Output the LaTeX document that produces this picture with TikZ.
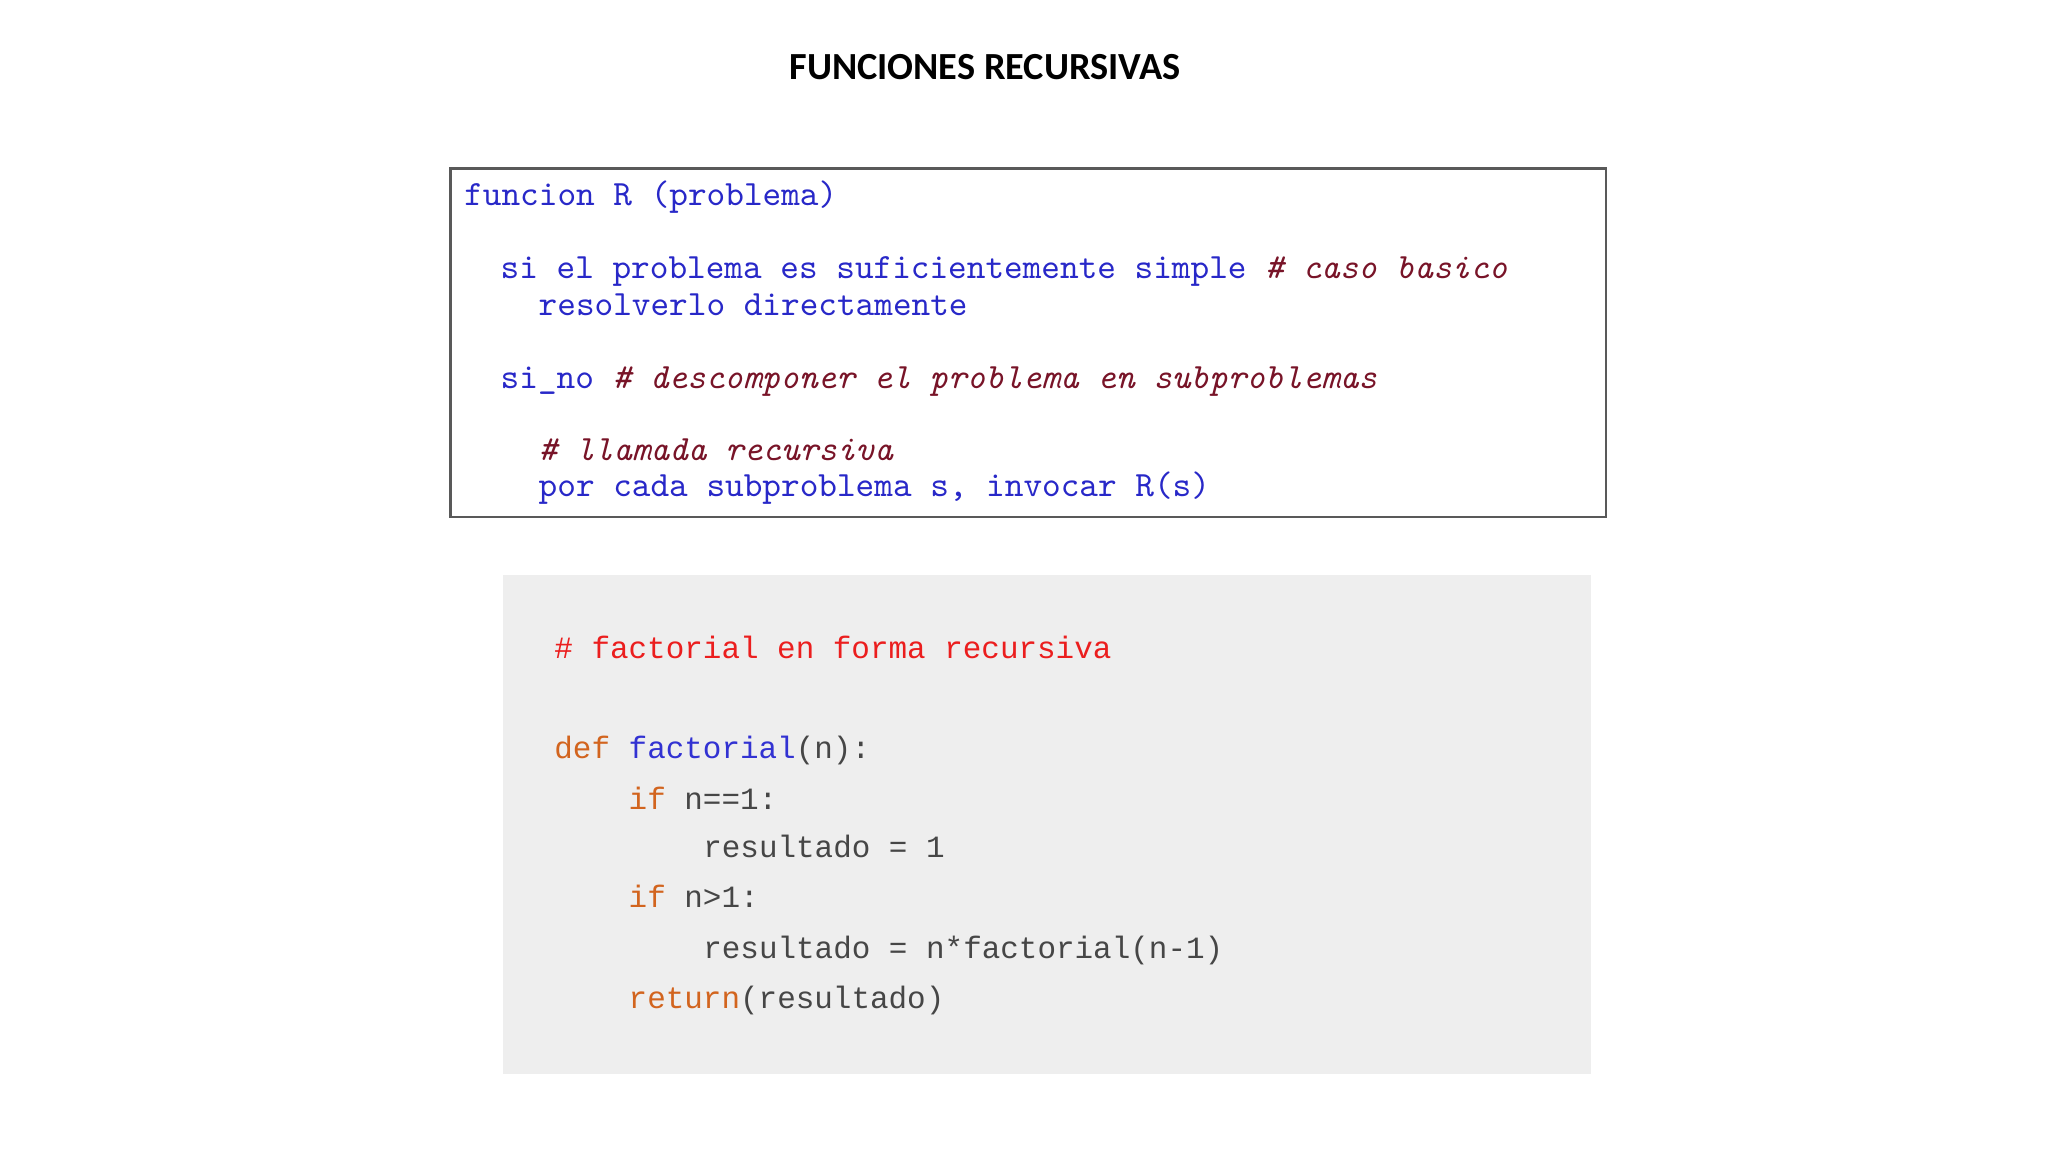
\documentclass[tikz,border=0pt]{standalone}
\usepackage{fontspec}
\usetikzlibrary{fit}
\newfontfamily\titlefont{Carlito}
\newfontfamily\codefont{Liberation Mono}
\definecolor{kwblue}{RGB}{40,40,200}
\definecolor{cmred}{RGB}{120,20,40}
\definecolor{pyred}{RGB}{235,30,30}
\definecolor{pyor}{RGB}{210,100,30}
\definecolor{pyblue}{RGB}{50,50,210}
\definecolor{pygray}{RGB}{70,70,70}
\definecolor{codebg}{RGB}{238,238,238}
\tikzset{
  l1/.style={anchor=base west,inner sep=0pt,font=\ttfamily\fontsize{10.1}{12}\selectfont,text=kwblue},
  l2/.style={anchor=base west,inner sep=0pt,font=\codefont\fontsize{8.8}{11}\selectfont,text=pygray},
}
\begin{document}
\begin{tikzpicture}[x=0.01cm,y=-0.01cm]
\useasboundingbox (0,0) rectangle (2048,1152);
\node[anchor=base,inner sep=0pt,font=\titlefont\bfseries\fontsize{10.9}{12}\selectfont] (title) at (985,80) {FUNCIONES RECURSIVAS};
\coordinate (p1) at (450.6,168.5);
\coordinate (p2) at (1606,517);
\node[draw=black!65,line width=0.8pt,inner sep=0pt,fit=(p1)(p2)] (box1) {};
\coordinate (q1) at (503,575);
\coordinate (q2) at (1591,1073.5);
\node[fill=codebg,inner sep=0pt,fit=(q1)(q2)] (box2) {};
\node[l1] (a1) at (463.6,206) {funcion R (problema)};
\node[l1] (a2) at (500,279) {si el problema es suficientemente simple \textcolor{cmred}{\itshape\# caso basico}};
\node[l1] (a3) at (538,315.6) {resolverlo directamente};
\node[l1] (a4) at (500,389) {si\_no \textcolor{cmred}{\itshape\# descomponer el problema en subproblemas}};
\node[l1,text=cmred,font=\ttfamily\itshape\fontsize{10.1}{12}\selectfont] (a5) at (538,460.6) {\# llamada recursiva};
\node[l1] (a6) at (538,497) {por cada subproblema s, invocar R(s)};
\node[l2,text=pyred] (b1) at (553.7,659) {\# factorial en forma recursiva};
\node[l2] (b2) at (553.7,758) {\textcolor{pyor}{def} \textcolor{pyblue}{factorial}(n):};
\node[l2] (b3) at (628,809) {\textcolor{pyor}{if} n==1:};
\node[l2] (b4) at (702.6,857) {resultado = 1};
\node[l2] (b5) at (628,907) {\textcolor{pyor}{if} n>1:};
\node[l2] (b6) at (702.6,958) {resultado = n*factorial(n-1)};
\node[l2] (b7) at (628,1008) {\textcolor{pyor}{return}(resultado)};
\end{tikzpicture}
\end{document}
